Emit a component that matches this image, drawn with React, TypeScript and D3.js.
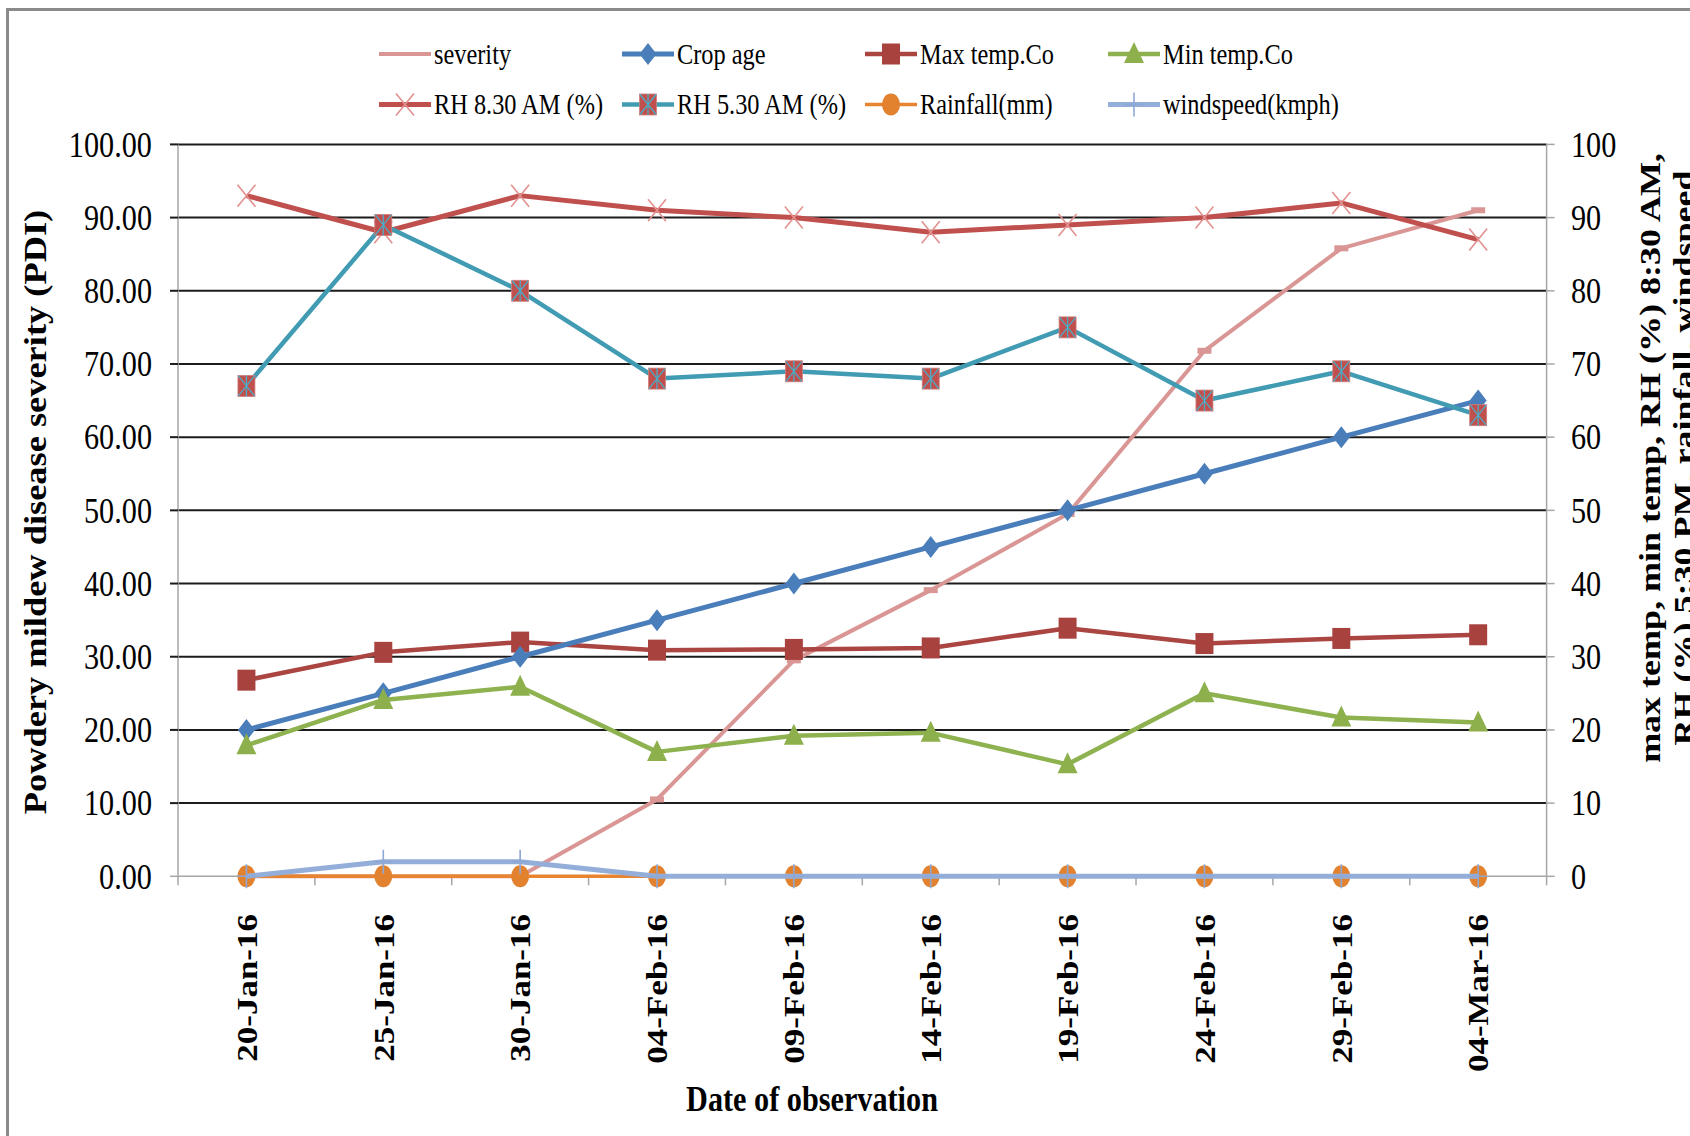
import React from "react";
import * as d3 from "d3";

const dates = ["20-Jan-16", "25-Jan-16", "30-Jan-16", "04-Feb-16", "09-Feb-16", "14-Feb-16", "19-Feb-16", "24-Feb-16", "29-Feb-16", "04-Mar-16"];
const severity = [0, 0, 0, 10.5, 29.5, 39.1, 49.5, 71.8, 85.8, 91.0];
const cropAge = [20, 25, 30, 35, 40, 45, 50, 55, 60, 65];
const maxTemp = [26.8, 30.6, 32.0, 30.9, 31.0, 31.2, 33.9, 31.8, 32.5, 33.0];
const minTemp = [17.9, 24.1, 25.9, 17.0, 19.2, 19.6, 15.3, 25.0, 21.7, 21.0];
const rh830 = [93, 88, 93, 91, 90, 88, 89, 90, 92, 87];
const rh530 = [67, 89, 80, 68, 69, 68, 75, 65, 69, 63];
const rainfall = [0, 0, 0, 0, 0, 0, 0, 0, 0, 0];
const windspeed = [0, 2, 2, 0, 0, 0, 0, 0, 0, 0];

const leftTicks = [0, 10, 20, 30, 40, 50, 60, 70, 80, 90, 100];
const rightTicks = [0, 10, 20, 30, 40, 50, 60, 70, 80, 90, 100];

const legendNames = ["severity", "Crop age", "Max temp.Co", "Min temp.Co", "RH 8.30 AM (%)", "RH 5.30 AM (%)", "Rainfall(mm)", "windspeed(kmph)"];

const leftTitle = "Powdery mildew disease severity (PDI)";
const rightTitle = ["max temp, min temp, RH (%) 8:30 AM,", "RH (%) 5:30 PM, rainfall, windspeed"];
const xTitle = "Date of observation";

type Series = { name: string; values: number[]; color: string; width: number; marker: string; mcolor: string; mcolor2?: string };

const seriesByName: Record<string, Series> = {
  "severity": { name: "severity", values: severity, color: "#D99694", width: 4, marker: "dash", mcolor: "#D99694" },
  "Crop age": { name: "Crop age", values: cropAge, color: "#4A7EBB", width: 5, marker: "diamond", mcolor: "#4A7EBB" },
  "Max temp.Co": { name: "Max temp.Co", values: maxTemp, color: "#AA4542", width: 4.5, marker: "square", mcolor: "#A8423F" },
  "Min temp.Co": { name: "Min temp.Co", values: minTemp, color: "#8DB24F", width: 4.5, marker: "triangle", mcolor: "#8DB04D" },
  "RH 8.30 AM (%)": { name: "RH 8.30 AM (%)", values: rh830, color: "#C0504D", width: 5, marker: "x", mcolor: "#E2918F" },
  "RH 5.30 AM (%)": { name: "RH 5.30 AM (%)", values: rh530, color: "#419BB3", width: 4.5, marker: "xsquare", mcolor: "#C0504D", mcolor2: "#4BACC6" },
  "Rainfall(mm)": { name: "Rainfall(mm)", values: rainfall, color: "#E8842F", width: 3.5, marker: "circle", mcolor: "#E2822F" },
  "windspeed(kmph)": { name: "windspeed(kmph)", values: windspeed, color: "#93AED8", width: 5, marker: "plus", mcolor: "#8EA8D6" },
};

const drawOrder = ["severity", "Max temp.Co", "Crop age", "Min temp.Co", "RH 8.30 AM (%)", "RH 5.30 AM (%)", "Rainfall(mm)", "windspeed(kmph)"];

const W = 1690, H = 1136;
const PL = 178, PR = 1546.6, PT = 144.4, PB = 876.3;
const K = 0.84;
const FONT = "'Liberation Serif', 'Times New Roman', serif";

function HText(props: any) {
  const { x, y, children, ...rest } = props;
  return (
    <g transform={`translate(${x},${y}) scale(${K},1)`}>
      <text fontFamily={FONT} fill="#000" {...rest}>{children}</text>
    </g>
  );
}
function VText(props: any) {
  const { x, y, children, ...rest } = props;
  return (
    <g transform={`translate(${x},${y}) scale(${K},1) rotate(-90)`}>
      <text fontFamily={FONT} fill="#000" {...rest}>{children}</text>
    </g>
  );
}

function Marker({ s, cx, cy, k }: { s: Series; cx: number; cy: number; k: string }) {
  const t = `translate(${cx},${cy})`;
  switch (s.marker) {
    case "dash":
      return <rect key={k} transform={t} x={-7} y={-3} width={14} height={6} fill={s.mcolor} />;
    case "diamond":
      return <path key={k} transform={t} d="M0,-11L8.5,0L0,11L-8.5,0Z" fill={s.mcolor} />;
    case "square":
      return <rect key={k} transform={t} x={-9} y={-10.5} width={18} height={21} fill={s.mcolor} />;
    case "triangle":
      return <path key={k} transform={t} d="M0,-12L10,9L-10,9Z" fill={s.mcolor} />;
    case "x":
      return <path key={k} transform={t} d="M-9,-11L9,11M-9,11L9,-11" stroke={s.mcolor} strokeWidth={1.6} fill="none" />;
    case "xsquare":
      return (
        <g key={k} transform={t}>
          <rect x={-8.5} y={-10.5} width={17} height={21} fill={s.mcolor} stroke="#D0807E" strokeWidth={0.8} />
          <path d="M-8,-10L8,10M-8,10L8,-10M0,-10.5L0,10.5" stroke={s.mcolor2} strokeWidth={1.3} fill="none" />
        </g>
      );
    case "circle":
      return <ellipse key={k} transform={t} rx={9} ry={11} fill={s.mcolor} />;
    case "plus":
      return <path key={k} transform={t} d="M0,-12L0,12M-9,0L9,0" stroke={s.mcolor} strokeWidth={1.6} fill="none" />;
  }
  return null;
}

export default function App() {
  const x = d3.scalePoint<string>().domain(dates).range([PL, PR]).padding(0.5);
  const step = x.step();
  const y = d3.scaleLinear().domain([0, 100]).range([PB, PT]);
  const yR = d3.scaleLinear().domain([0, 100]).range([PB, PT]);
  const line = d3.line<number>().x((_, i) => x(dates[i]) as number).y((v) => y(v));

  const boundaries = d3.range(dates.length + 1).map((i) => PL + i * step);

  const legendX0 = 379, legendDX = 243, legendY0 = 54, legendDY = 50.5;

  return (
    <svg width={W} height={H} style={{ position: "absolute", left: 0, top: 0, background: "#fff" }}>
      <rect x={0} y={0} width={W} height={H} fill="#fff" />
      {/* chart border */}
      <path d={`M7.5,${H}L7.5,9.5L${W},9.5`} stroke="#8a8a8a" strokeWidth={3} fill="none" />

      {/* gridlines */}
      {leftTicks.filter((t) => t > 0).map((t) => (
        <line key={"g" + t} x1={PL} x2={PR} y1={y(t)} y2={y(t)} stroke="#1c1c1c" strokeWidth={2} />
      ))}
      {/* axes */}
      <line x1={PL} x2={PL} y1={PT} y2={PB} stroke="#a6a6a6" strokeWidth={1.5} />
      <line x1={PR} x2={PR} y1={PT} y2={PB} stroke="#a6a6a6" strokeWidth={1.5} />
      <line x1={PL} x2={PR} y1={PB} y2={PB} stroke="#a6a6a6" strokeWidth={1.5} />
      {leftTicks.map((t) => (
        <line key={"lt" + t} x1={PL - 8} x2={PL} y1={y(t)} y2={y(t)} stroke={t === 0 ? "#a6a6a6" : "#1c1c1c"} strokeWidth={t === 0 ? 1.5 : 2} />
      ))}
      {rightTicks.map((t) => (
        <line key={"rt" + t} x1={PR} x2={PR + 8} y1={yR(t)} y2={yR(t)} stroke="#a6a6a6" strokeWidth={1.5} />
      ))}
      {boundaries.map((bx, i) => (
        <line key={"bt" + i} x1={bx} x2={bx} y1={PB} y2={PB + 9} stroke="#a6a6a6" strokeWidth={1.5} />
      ))}

      {/* tick labels */}
      {leftTicks.map((t) => (
        <HText key={"ll" + t} x={152} y={y(t)} dy="0.34em" fontSize={36} textAnchor="end">{t.toFixed(2)}</HText>
      ))}
      {rightTicks.map((t) => (
        <HText key={"rl" + t} x={1571} y={yR(t)} dy="0.34em" fontSize={36} textAnchor="start">{String(t)}</HText>
      ))}
      {dates.map((d) => (
        <VText key={"xl" + d} x={x(d)} y={914} dy="0.35em" fontSize={35} fontWeight="bold" textAnchor="end">{d}</VText>
      ))}

      {/* titles */}
      <VText x={35.6} y={512} dy="0.35em" fontSize={36.4} fontWeight="bold" textAnchor="middle">{leftTitle}</VText>
      <VText x={1649} y={458} dy="0.35em" fontSize={36} fontWeight="bold" textAnchor="middle">{rightTitle[0]}</VText>
      <VText x={1683} y={458} dy="0.35em" fontSize={36} fontWeight="bold" textAnchor="middle">{rightTitle[1]}</VText>
      <HText x={812} y={1111} fontSize={36} fontWeight="bold" textAnchor="middle">{xTitle}</HText>

      {/* series */}
      {drawOrder.map((n) => {
        const s = seriesByName[n];
        return (
          <g key={"s" + n}>
            <path d={line(s.values) || ""} stroke={s.color} strokeWidth={s.width} fill="none" strokeLinejoin="round" />
            {s.values.map((v, i) => (
              <Marker key={n + i} k={n + i} s={s} cx={x(dates[i]) as number} cy={y(v)} />
            ))}
          </g>
        );
      })}

      {/* legend */}
      {legendNames.map((n, i) => {
        const s = seriesByName[n];
        const col = i % 4, row = Math.floor(i / 4);
        const lx = legendX0 + col * legendDX;
        const ly = legendY0 + row * legendDY;
        return (
          <g key={"lg" + n}>
            <line x1={lx} x2={lx + 52} y1={ly} y2={ly} stroke={s.color} strokeWidth={s.width} />
            {s.marker !== "dash" && <Marker k={"lm" + n} s={s} cx={lx + 26} cy={ly} />}
            <HText x={lx + 55} y={ly} dy="0.34em" fontSize={29}>{n}</HText>
          </g>
        );
      })}
    </svg>
  );
}
